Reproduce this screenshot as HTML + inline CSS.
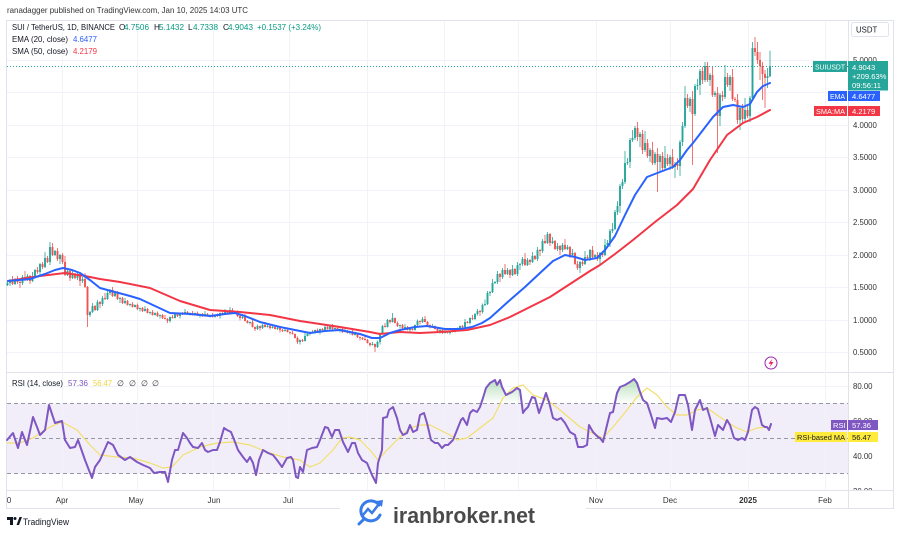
<!DOCTYPE html>
<html><head><meta charset="utf-8"><style>
html,body{margin:0;padding:0;background:#fff;}
svg{display:block;font-family:"Liberation Sans",sans-serif;}
</style></head><body>
<svg width="900" height="533" viewBox="0 0 900 533" xmlns="http://www.w3.org/2000/svg">
<defs>
<linearGradient id="gOB" gradientUnits="userSpaceOnUse" x1="0" y1="376" x2="0" y2="403.5"><stop offset="0" stop-color="#4caf50" stop-opacity="0.45"/><stop offset="1" stop-color="#4caf50" stop-opacity="0"/></linearGradient>
<linearGradient id="gOS" gradientUnits="userSpaceOnUse" x1="0" y1="490" x2="0" y2="473.5"><stop offset="0" stop-color="#f23645" stop-opacity="0.45"/><stop offset="1" stop-color="#f23645" stop-opacity="0"/></linearGradient>
<clipPath id="cOB"><rect x="0" y="373" width="848" height="30.5"/></clipPath>
<clipPath id="cOS"><rect x="0" y="473.5" width="848" height="17"/></clipPath>
<clipPath id="cRsiAx"><rect x="849" y="373" width="44" height="117"/></clipPath>
</defs>

<!-- header -->
<text x="7" y="13" font-size="8.6" fill="#333" textLength="241" lengthAdjust="spacingAndGlyphs">ranadagger published on TradingView.com, Jan 10, 2025 14:03 UTC</text>

<!-- frame -->
<rect x="6.5" y="20.5" width="887" height="488" fill="none" stroke="#e0e3eb" stroke-width="1"/>
<line x1="848.5" y1="20.5" x2="848.5" y2="508.5" stroke="#e0e3eb"/>
<line x1="6.5" y1="372.5" x2="893.5" y2="372.5" stroke="#e0e3eb"/>
<line x1="6.5" y1="490.5" x2="893.5" y2="490.5" stroke="#e0e3eb"/>

<!-- RSI band -->
<rect x="7" y="403.5" width="841" height="70" fill="#7e57c2" fill-opacity="0.1"/>

<!-- grid -->
<g stroke="#f0f3fa" stroke-width="1">
<line x1="7" x2="848" y1="60.5" y2="60.5"/><line x1="7" x2="848" y1="92.5" y2="92.5"/><line x1="7" x2="848" y1="125.5" y2="125.5"/><line x1="7" x2="848" y1="157.5" y2="157.5"/><line x1="7" x2="848" y1="190.5" y2="190.5"/><line x1="7" x2="848" y1="222.5" y2="222.5"/><line x1="7" x2="848" y1="255.5" y2="255.5"/><line x1="7" x2="848" y1="287.5" y2="287.5"/><line x1="7" x2="848" y1="320.5" y2="320.5"/><line x1="7" x2="848" y1="352.5" y2="352.5"/>
<line x1="7" x2="848" y1="386.5" y2="386.5"/>
<line x1="62.5" x2="62.5" y1="21" y2="490"/><line x1="137.5" x2="137.5" y1="21" y2="490"/><line x1="213.5" x2="213.5" y1="21" y2="490"/><line x1="289.5" x2="289.5" y1="21" y2="490"/><line x1="367.5" x2="367.5" y1="21" y2="490"/><line x1="444.5" x2="444.5" y1="21" y2="490"/><line x1="518.5" x2="518.5" y1="21" y2="490"/><line x1="596.5" x2="596.5" y1="21" y2="490"/><line x1="670.5" x2="670.5" y1="21" y2="490"/><line x1="748.5" x2="748.5" y1="21" y2="490"/><line x1="825.5" x2="825.5" y1="21" y2="490"/>
</g>

<!-- RSI dashed levels -->
<g stroke="#9598a1" stroke-width="1" stroke-dasharray="4,3">
<line x1="7" x2="848" y1="403.5" y2="403.5"/><line x1="7" x2="848" y1="438.5" y2="438.5"/><line x1="7" x2="848" y1="473.5" y2="473.5"/>
</g>

<!-- current price line -->
<line x1="7" x2="848" y1="66.5" y2="66.5" stroke="#26a69a" stroke-width="1" stroke-dasharray="1,2"/>

<!-- candle wicks -->
<path fill="none" stroke="#26a69a" stroke-width="0.8" d="M7.5 281V286M10 279V286M15 278V285M22.5 275V285M27.5 274V281M32.5 272V282M35 269V277M40 263V277M45 252V268M50 242V265M55 250V256M60 254V264M67.5 269V276M72.5 270V279M77.5 272V280M82.5 277V283M90 311V317M92.5 303V313M97.5 300V311M102.5 296V306M107.5 291V300M110 289V295M115 292V297M120 297V303M125 298V304M130 303.5V306.5M135 304.5V307.5M140 307.5V311.5M145 306V311.5M150 311.5V314.5M155 312.5V315.5M160 314.5V318.5M170 316.5V322.5M175 313.5V318.5M180 312.5V318.5M185 309V314.5M190 312.5V315.5M195 312.5V315.5M200 313.5V317.5M205 311V316.5M210 314.5V317.5M215 314.5V317.5M220 312.5V318.5M225 309V314.5M230 307V314.5M235 311.5V313.5M242.5 316V319M250 321.5V324.5M257.5 324.5V330M262.5 324V329M267.5 325V327.5M272.5 325V328.5M277.5 326.5V330M285 327V331.5M300 339.5V344.5M305 333V341.5M307.5 333V336.5M310 331.5V335.5M315 329.5V333.5M320 328.5V334.5M325 324V330.5M330 325.5V330.5M335 327.5V329.5M340 328.5V332.5M345 328V332.5M350 331.5V334.5M355 333.5V335.5M372.5 342V345.5M377.5 340.5V348M380 332.5V344.5M382.5 325V334M387.5 319V327.5M392.5 313V322.5M400 324.5V328.5M405 324V328.5M410 328.5V331.5M415 324.5V330.5M417.5 319.5V326M422.5 317V323M432.5 324V327.5M440 329.5V333.5M445 330V333.5M450 330.5V334.5M455 329.5V332.5M457.5 327.5V331M460 325.5V331.5M465 319V327.5M470 317.5V324.5M475 313V320M477.5 309V315.5M482.5 303.5V313.5M485 299.5V306M487.5 291V305M490 291V296M492.5 279V293M495 281V284M497.5 271V284M502.5 268V279M507.5 268V275M512.5 265V276M517.5 262V276M520 263V270M522.5 257V266M527.5 258V266M532.5 252V263M537.5 247V261M542.5 239V253M547.5 232V244M552.5 237V244M557.5 243V251M562.5 243V252M567.5 245V250M572.5 249V256M580 261V273M585 251V265M590 249V261M595 254V258M600 252V264M605 239V256M607.5 240V247M610 229V247M612.5 223V233M615 210V230M617.5 201V215M620 184V213M622.5 179V189M625 151V184M627.5 158V165M630 138V168M632.5 130V142M635 126V140M640 132V147M645 131V152M650 148V162M655 152V165M660 154V172M665 146V170M670 155V170M675 162V178M680 140V176M682.5 122V146M685 86V128M690 97V112M695 84V116M697.5 79V90M700 69V95M705 62V82M710 73V86M715 91V97M720 93V126M725 65V99M730 75V91M740 106V130M745 98V121M750 96V122M752.5 42V100M767.5 68V88M770 50.7V77.3"/>
<path fill="none" stroke="#ef5350" stroke-width="0.8" d="M12.5 276V285M17.5 276V284M20 281V288M25 271V281M30 275V284M37.5 267V274M42.5 262V269M47.5 256V263M52.5 243V256M57.5 248V261M62.5 253V264M65 256V276M70 270V281M75 273V279M80 274V286M85 273V288M87.5 286V327M95 305V311M100 301V308M105 293V300M112.5 287V297M117.5 291V300M122.5 297V304M127.5 300V305.5M132.5 302V307.5M137.5 303.5V310M142.5 307V312M147.5 308V313.5M152.5 310V315.5M157.5 311.5V317M162.5 314V319M165 315V319.5M167.5 318V323M172.5 315V318.5M177.5 312.5V317M182.5 312V315M187.5 311V314.5M192.5 311V315.5M197.5 311.5V316M202.5 313V317M207.5 313V316.5M212.5 313V317.5M217.5 313.5V317M222.5 312V315M227.5 311V313.5M232.5 308V313.5M237.5 310.5V317M240 315.5V320.5M245 314V321.5M247.5 320V323.5M252.5 320V327.5M255 326.5V331M260 325.5V330.5M265 322V327.5M270 325.5V329.5M275 326.5V329.5M280 327.5V332.5M282.5 329V332M287.5 329V332.5M290 331.5V334.5M292.5 331V334.5M295 333.5V338.5M297.5 336.5V344M302.5 339V342M312.5 330V333.5M317.5 328.5V333M322.5 328V331M327.5 326V329.5M332.5 324V329.5M337.5 326.5V331M342.5 328V333M347.5 330V333.5M352.5 330V335.5M357.5 332.5V338M360 336.5V340.5M362.5 337V340M365 336V340.5M367.5 339V343.5M370 342.5V346.5M375 343.5V352M385 323V327.5M390 319.5V323.5M395 317.5V323.5M397.5 321.5V327M402.5 324V329M407.5 326V330.5M412.5 327V330.5M420 320.5V324.5M425 316V322.5M427.5 321V325.5M430 324.5V328.5M435 325.5V329.5M437.5 327.5V332M442.5 329V334M447.5 331V333.5M452.5 329V332.5M462.5 325V328M467.5 321V323.5M472.5 315V320M480 310V316M500 273V282M505 264V275M510 269V278M515 268V275M525 253V266M530 259V265M535 255V260M540 249V256M545 235V244M550 233V246M555 240V250M560 245V255M565 239V250M570 246V258M575 252V265M577.5 261V270M582.5 260V266M587.5 255V259M592.5 246V258M597.5 252V261M602.5 251V257M637.5 122V141M642.5 130V154M647.5 139V158M652.5 142V165M657.5 148V192M662.5 152V172M667.5 154V166M672.5 149V169M677.5 158V170M687.5 94V108M692.5 91V165M702.5 67V84M707.5 62V82M712.5 67V97M717.5 87V153M722.5 91V101M727.5 73V87M732.5 69V101M735 97V102M737.5 94V124M742.5 104V123M747.5 106V118M755 37V56M757.5 42V64M760 52V80M762.5 62V100M765 70V108"/>
<!-- candle bodies -->
<path fill="none" stroke="#26a69a" stroke-width="1.9" d="M7.5 283V285M10 280V283M15 279V284M22.5 277V283M27.5 276V280M32.5 276V281M35 270V276M40 264V272M45 258V267M50 247V262M55 251V255M60 255V259M67.5 271V275M72.5 274V278M77.5 275V278M82.5 279V281M90 312V315M92.5 306V312M97.5 302V310M102.5 298V304M107.5 293V299M110 290V293M115 293V296M120 298V299M125 301V303M130 304V305M135 305V307M140 308V309M145 309V311M150 312V313M155 313V315M160 315V316M170 317V321M175 314V318M180 313V316M185 312V314M190 313V314M195 313V315M200 314V315M205 314V316M210 315V316M215 315V317M220 313V316M225 312V314M230 310V313M235 312V313M242.5 317V318M250 322V323M257.5 326V329M262.5 325V328M267.5 326V327M272.5 327V328M277.5 328V329M285 330V331M300 340V342M305 336V341M307.5 334V336M310 332V334M315 330V333M320 329V332M325 327V330M330 326V329M335 328V329M340 329V330M345 331V332M350 332V333M355 334V335M372.5 344V345M377.5 342V347M380 333V342M382.5 326V333M387.5 320V327M392.5 318V322M400 325V326M405 327V328M410 329V330M415 325V330M417.5 321V325M422.5 319V322M432.5 326V327M440 330V331M445 332V333M450 331V333M455 330V332M457.5 329V330M460 326V329M465 322V327M470 318V323M475 314V319M477.5 311V314M482.5 305V312M485 304V305M487.5 293V304M490 292V293M492.5 283V292M495 282V283M497.5 274V282M502.5 270V277M507.5 270V274M512.5 269V275M517.5 265V274M520 264V265M522.5 259V264M527.5 260V265M532.5 256V262M537.5 250V259M542.5 241V251M547.5 234V243M552.5 241V243M557.5 246V249M562.5 245V250M567.5 247V249M572.5 253V255M580 262V268M585 257V264M590 250V258M595 255V257M600 253V259M605 245V255M607.5 243V245M610 231V243M612.5 229V231M615 212V229M617.5 206V212M620 186V206M622.5 182V186M625 163V182M627.5 162V163M630 140V162M632.5 138V140M635 128V138M640 134V137M645 143V150M650 150V156M655 154V163M660 156V162M665 158V168M670 157V164M675 164V167M680 142V166M682.5 126V142M685 98V126M690 99V106M695 86V114M697.5 85V86M700 71V85M705 66V80M710 75V80M715 93V95M720 95V116M725 77V97M730 77V85M740 108V120M745 110V119M750 98V116M752.5 48V98M767.5 76V78M770 66.2V76.2"/>
<path fill="none" stroke="#ef5350" stroke-width="1.9" d="M12.5 280V284M17.5 279V282M20 282V283M25 277V280M30 276V281M37.5 270V272M42.5 264V267M47.5 258V262M52.5 247V255M57.5 251V259M62.5 255V262M65 262V275M70 271V278M75 274V278M80 275V281M85 279V287M87.5 287V315M95 306V310M100 302V304M105 298V299M112.5 290V296M117.5 293V299M122.5 298V303M127.5 301V305M132.5 304V307M137.5 305V309M142.5 308V311M147.5 309V313M152.5 312V315M157.5 313V316M162.5 315V318M165 318V319M167.5 319V321M172.5 317V318M177.5 314V316M182.5 313V314M187.5 312V314M192.5 313V315M197.5 313V315M202.5 314V316M207.5 314V316M212.5 315V317M217.5 315V316M222.5 313V314M227.5 312V313M232.5 310V313M237.5 312V316M240 316V318M245 317V321M247.5 321V323M252.5 322V327M255 327V329M260 326V328M265 325V327M270 326V328M275 327V329M280 328V330M282.5 330V331M287.5 330V332M290 332V333M292.5 333V334M295 334V338M297.5 338V342M302.5 340V341M312.5 332V333M317.5 330V332M322.5 329V330M327.5 327V329M332.5 326V329M337.5 328V330M342.5 329V332M347.5 331V333M352.5 332V335M357.5 334V337M360 337V338M362.5 338V339M365 339V340M367.5 340V343M370 343V345M375 344V347M385 326V327M390 320V322M395 318V323M397.5 323V326M402.5 325V328M407.5 327V330M412.5 329V330M420 321V322M425 319V322M427.5 322V325M430 325V327M435 326V329M437.5 329V331M442.5 330V333M447.5 332V333M452.5 331V332M462.5 326V327M467.5 322V323M472.5 318V319M480 311V312M500 274V277M505 270V274M510 270V275M515 269V274M525 259V265M530 260V262M535 256V259M540 250V251M545 241V243M550 234V243M555 241V249M560 246V250M565 245V249M570 247V255M575 253V264M577.5 264V268M582.5 262V264M587.5 257V258M592.5 250V257M597.5 255V259M602.5 253V255M637.5 128V137M642.5 134V150M647.5 143V156M652.5 150V163M657.5 154V162M662.5 156V168M667.5 158V164M672.5 157V167M677.5 164V166M687.5 98V106M692.5 99V114M702.5 71V80M707.5 66V80M712.5 75V95M717.5 93V116M722.5 95V97M727.5 77V85M732.5 77V99M735 99V100M737.5 100V120M742.5 108V119M747.5 110V116M755 48V52M757.5 52V60M760 60V66M762.5 66V74M765 74V78"/>

<!-- SMA 50 -->
<polyline fill="none" stroke="#f23645" stroke-width="2" stroke-linejoin="round" stroke-linecap="round" points="8,281 40,276 65,273 85,276 100,279 120,282 150,288 180,301 210,310 240,312 270,315 300,321 340,327 370,332 380,334 400,332 420,333 440,332 467,330 490,325 510,317 530,307 550,297 570,284 590,271 600,265 615,254 633,240 655,222 677,205 693,189 710,160 727,135 743,123 757,117 770,110"/>
<!-- EMA 20 -->
<polyline fill="none" stroke="#2962ff" stroke-width="2" stroke-linejoin="round" stroke-linecap="round" points="8,281 30,279 45,274 55,270 63,268 72,270 80,273 90,280 100,288 115,292 130,296 140,299 155,306 170,313 190,314 210,316 225,314 235,313 245,316 260,322 280,327 300,331 310,333 325,331 340,330 360,334 372,338 380,338 390,333 400,330 415,327 427,326 445,329 460,329 472,327 482,323 490,318 500,309 510,300 525,287 540,273 553,261 565,255 575,257 585,260 597,258 605,250 615,236 625,215 635,195 647,177 660,172 673,167 680,160 687,150 693,143 703,130 713,117 723,107 733,105 743,107 750,104 757,92 763,86 770,83"/>

<!-- RSI fills -->
<path clip-path="url(#cOB)" fill="url(#gOB)" d="M7,403.5 7,440 13,433 18,448 22,432 27,445 33,417 37,427 40,435 45,430 49,405 55,423 62,421 65,440 70,448 75,447 78,440 85,460 92,478 95,467 100,460 108,442 113,445 118,455 125,460 130,457 137,462 143,465 150,468 154,473 160,472 165,472 168,482 172,460 175,450 178,450 183,433 187,438 190,443 193,447 198,448 202,443 205,450 208,452 213,450 217,450 220,442 224,428 227,430 231,432 235,442 238,450 243,457 247,462 250,457 253,463 256,475 259,460 263,450 268,453 273,455 277,460 282,467 287,458 291,457 293,460 296,477 298,478 300,467 303,472 307,450 312,448 317,447 320,440 325,427 328,428 332,437 335,430 339,430 343,442 348,452 352,443 355,443 358,453 362,460 367,463 372,475 376,483 378,463 382,450 383,418 387,417 389,410 393,407 397,418 400,430 403,435 407,433 410,425 413,432 417,430 420,415 424,413 427,423 431,440 435,443 438,443 442,448 445,445 448,445 453,440 457,430 461,420 463,418 467,425 470,413 473,410 477,412 480,407 483,398 486,388 490,383 495,380 497,385 500,380 502,387 506,395 512,392 517,388 520,390 523,413 525,410 528,407 532,397 535,398 539,413 543,402 546,393 549,402 553,418 557,420 561,418 565,423 570,432 575,435 578,447 583,447 587,445 589,425 593,432 598,437 600,438 603,442 607,425 610,413 613,412 617,393 620,387 625,385 630,382 634,379 637,383 640,392 643,400 647,403 651,415 655,428 657,418 662,419 667,418 671,422 675,412 679,395 685,395 688,405 692,430 695,410 700,400 703,410 707,408 710,418 715,436 718,425 723,430 727,420 730,425 734,438 738,440 742,438 745,440 748,432 752,410 755,407 758,409 762,425 765,427 767,427 769,430 771,424 771,403.5Z"/>
<path clip-path="url(#cOS)" fill="url(#gOS)" d="M7,473.5 7,440 13,433 18,448 22,432 27,445 33,417 37,427 40,435 45,430 49,405 55,423 62,421 65,440 70,448 75,447 78,440 85,460 92,478 95,467 100,460 108,442 113,445 118,455 125,460 130,457 137,462 143,465 150,468 154,473 160,472 165,472 168,482 172,460 175,450 178,450 183,433 187,438 190,443 193,447 198,448 202,443 205,450 208,452 213,450 217,450 220,442 224,428 227,430 231,432 235,442 238,450 243,457 247,462 250,457 253,463 256,475 259,460 263,450 268,453 273,455 277,460 282,467 287,458 291,457 293,460 296,477 298,478 300,467 303,472 307,450 312,448 317,447 320,440 325,427 328,428 332,437 335,430 339,430 343,442 348,452 352,443 355,443 358,453 362,460 367,463 372,475 376,483 378,463 382,450 383,418 390,473.5Z"/>

<!-- RSI MA -->
<polyline fill="none" stroke="#f2df6b" stroke-width="1.2" stroke-linejoin="round" points="7,443 20,443 33,438 50,427 62,422 77,430 90,445 100,455 117,457 133,458 150,463 163,468 172,467 183,455 200,447 217,443 233,442 250,445 267,452 283,457 300,460 310,467 320,463 333,450 342,438 350,437 360,440 370,450 378,460 387,450 397,440 410,428 420,425 430,425 440,430 450,435 457,440 467,438 480,428 493,418 503,398 513,388 523,385 533,395 547,400 560,410 580,427 590,432 603,438 613,427 627,410 637,397 647,388 657,395 667,407 677,415 687,415 697,410 707,408 717,415 727,422 737,428 747,432 757,428 770,427"/>
<!-- RSI -->
<polyline fill="none" stroke="#7e57c2" stroke-width="2" stroke-linejoin="round" stroke-linecap="round" points="7,440 13,433 18,448 22,432 27,445 33,417 37,427 40,435 45,430 49,405 55,423 62,421 65,440 70,448 75,447 78,440 85,460 92,478 95,467 100,460 108,442 113,445 118,455 125,460 130,457 137,462 143,465 150,468 154,473 160,472 165,472 168,482 172,460 175,450 178,450 183,433 187,438 190,443 193,447 198,448 202,443 205,450 208,452 213,450 217,450 220,442 224,428 227,430 231,432 235,442 238,450 243,457 247,462 250,457 253,463 256,475 259,460 263,450 268,453 273,455 277,460 282,467 287,458 291,457 293,460 296,477 298,478 300,467 303,472 307,450 312,448 317,447 320,440 325,427 328,428 332,437 335,430 339,430 343,442 348,452 352,443 355,443 358,453 362,460 367,463 372,475 376,483 378,463 382,450 383,418 387,417 389,410 393,407 397,418 400,430 403,435 407,433 410,425 413,432 417,430 420,415 424,413 427,423 431,440 435,443 438,443 442,448 445,445 448,445 453,440 457,430 461,420 463,418 467,425 470,413 473,410 477,412 480,407 483,398 486,388 490,383 495,380 497,385 500,380 502,387 506,395 512,392 517,388 520,390 523,413 525,410 528,407 532,397 535,398 539,413 543,402 546,393 549,402 553,418 557,420 561,418 565,423 570,432 575,435 578,447 583,447 587,445 589,425 593,432 598,437 600,438 603,442 607,425 610,413 613,412 617,393 620,387 625,385 630,382 634,379 637,383 640,392 643,400 647,403 651,415 655,428 657,418 662,419 667,418 671,422 675,412 679,395 685,395 688,405 692,430 695,410 700,400 703,410 707,408 710,418 715,436 718,425 723,430 727,420 730,425 734,438 738,440 742,438 745,440 748,432 752,410 755,407 758,409 762,425 765,427 767,427 769,430 771,424"/>

<!-- legend -->
<g font-size="8.2" fill="#131722">
<text x="12" y="30" textLength="103" lengthAdjust="spacingAndGlyphs">SUI / TetherUS, 1D, BINANCE</text>
<text x="119" y="30">O</text><text x="124" y="30" fill="#089981" textLength="25" lengthAdjust="spacingAndGlyphs">4.7506</text>
<text x="154" y="30">H</text><text x="159" y="30" fill="#089981" textLength="25" lengthAdjust="spacingAndGlyphs">5.1432</text>
<text x="188" y="30">L</text><text x="193" y="30" fill="#089981" textLength="25" lengthAdjust="spacingAndGlyphs">4.7338</text>
<text x="223" y="30">C</text><text x="228" y="30" fill="#089981" textLength="25" lengthAdjust="spacingAndGlyphs">4.9043</text>
<text x="257" y="30" fill="#089981" textLength="64" lengthAdjust="spacingAndGlyphs">+0.1537 (+3.24%)</text>
<text x="12" y="42" textLength="56" lengthAdjust="spacingAndGlyphs">EMA (20, close)</text><text x="73" y="42" fill="#2962ff" textLength="24" lengthAdjust="spacingAndGlyphs">4.6477</text>
<text x="12" y="54" textLength="56" lengthAdjust="spacingAndGlyphs">SMA (50, close)</text><text x="73" y="54" fill="#f23645" textLength="24" lengthAdjust="spacingAndGlyphs">4.2179</text>
<text x="12" y="386" textLength="51" lengthAdjust="spacingAndGlyphs">RSI (14, close)</text>
<text x="68" y="386" fill="#7e57c2" textLength="20" lengthAdjust="spacingAndGlyphs">57.36</text>
<text x="93" y="386" fill="#f2d33a" textLength="19" lengthAdjust="spacingAndGlyphs">56.47</text>
<text x="117" y="386" fill="#333">∅</text><text x="129" y="386" fill="#333">∅</text><text x="141" y="386" fill="#333">∅</text><text x="152" y="386" fill="#333">∅</text>
</g>

<!-- price axis labels -->
<g font-size="7.8" fill="#333">
<text x="853" y="63">5.0000</text>
<text x="853" y="128">4.0000</text>
<text x="853" y="160">3.5000</text>
<text x="853" y="193">3.0000</text>
<text x="853" y="225">2.5000</text>
<text x="853" y="258">2.0000</text>
<text x="853" y="290">1.5000</text>
<text x="853" y="323">1.0000</text>
<text x="853" y="355">0.5000</text>
<g clip-path="url(#cRsiAx)">
<text x="853" y="389">80.00</text>
<text x="853" y="424">60.00</text>
<text x="853" y="459">40.00</text>
<text x="853" y="494">20.00</text>
</g>
</g>

<!-- USDT box -->
<rect x="851.5" y="22.5" width="37" height="14" rx="2" fill="#fff" stroke="#e0e3eb"/>
<text x="856" y="32.5" font-size="7.8" fill="#131722">USDT</text>

<!-- price label boxes -->
<g font-size="7.6" fill="#fff">
<rect x="813" y="61" width="34" height="11" fill="#26a69a"/><text x="815" y="69.5" textLength="30" lengthAdjust="spacingAndGlyphs">SUIUSDT</text>
<rect x="848" y="61" width="40" height="29.5" fill="#26a69a"/>
<text x="852" y="70">4.9043</text><text x="852" y="79">+209.63%</text><text x="852" y="88">09:56:11</text>
<rect x="828" y="91" width="19" height="10" fill="#2962ff"/><text x="830" y="99" textLength="15" lengthAdjust="spacingAndGlyphs">EMA</text>
<rect x="848" y="91" width="32" height="10" fill="#2962ff"/><text x="852" y="99">4.6477</text>
<rect x="814" y="106" width="33" height="10" fill="#f23645"/><text x="816" y="114" textLength="29" lengthAdjust="spacingAndGlyphs">SMA:MA</text>
<rect x="848" y="106" width="32" height="10" fill="#f23645"/><text x="852" y="114">4.2179</text>
<rect x="831" y="420" width="16" height="10" fill="#7e57c2"/><text x="833" y="428">RSI</text>
<rect x="848" y="420" width="30" height="10" fill="#7e57c2"/><text x="852" y="428">57.36</text>
<rect x="795" y="432" width="52" height="10" fill="#ffeb3b"/><text x="797" y="440" fill="#131722" textLength="48" lengthAdjust="spacingAndGlyphs">RSI-based MA</text>
<rect x="848" y="432" width="30" height="10" fill="#ffeb3b"/><text x="852" y="440" fill="#131722">56.47</text>
</g>

<!-- lightning icon -->
<circle cx="771" cy="363" r="6" fill="#fff" stroke="#9c27b0" stroke-width="1"/>
<path d="M772.5,358.5 L768.5,363.8 L771,363.8 L769.5,367.5 L773.5,362 L771,362 Z" fill="#e91e63"/>

<!-- time axis -->
<g font-size="8" fill="#333" text-anchor="middle">
<text x="9" y="503">0</text>
<text x="62" y="503">Apr</text>
<text x="136" y="503">May</text>
<text x="214" y="503">Jun</text>
<text x="288" y="503">Jul</text>
<text x="367" y="503">Aug</text>
<text x="444" y="503">Sep</text>
<text x="518" y="503">Oct</text>
<text x="596" y="503">Nov</text>
<text x="670" y="503">Dec</text>
<text x="748" y="503" font-weight="bold">2025</text>
<text x="825" y="503">Feb</text>
</g>

<!-- footer TradingView -->
<g fill="#131722">
<path d="M7,517 h6 v8 h-3 v-5 h-3z"/>
<circle cx="15" cy="518.5" r="1.5"/>
<path d="M16.5,525 l3,-8 h2.5 l-3,8z"/>
</g>
<text x="23" y="525" font-size="9" fill="#131722" textLength="46" lengthAdjust="spacingAndGlyphs">TradingView</text>

<!-- watermark -->
<rect x="340" y="491" width="246" height="42" fill="#fff"/>
<g fill="none" stroke="#3a7bea" stroke-width="3" stroke-linecap="round">
<path d="M379,505 A10,10 0 1 0 380,515"/>
<polyline points="363,515 368,509 372,513 379,504" stroke-width="2.5"/>
<path d="M364,519 L359,524" stroke-width="3"/>
</g>
<path d="M376,501 L383,500 L382,507 Z" fill="#3a7bea"/>
<text x="393" y="523" font-size="22" font-weight="bold" fill="#4a4a4a" textLength="142" lengthAdjust="spacingAndGlyphs">iranbroker.net</text>
</svg>
</body></html>
